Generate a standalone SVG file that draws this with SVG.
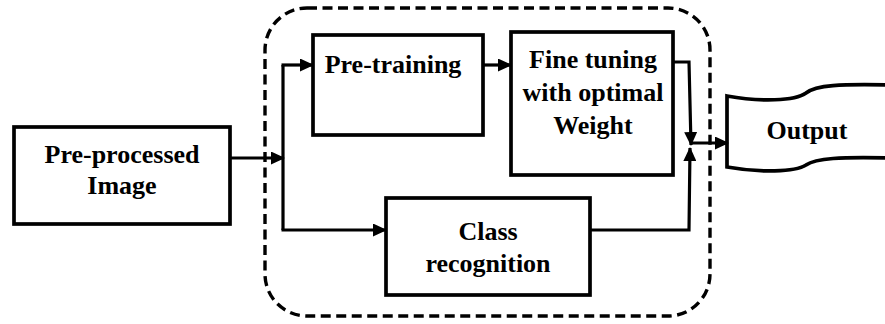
<svg xmlns="http://www.w3.org/2000/svg" width="885" height="324" viewBox="0 0 885 324">
<style>
.box{fill:#fff;stroke:#000;stroke-width:3.7}
.con{fill:none;stroke:#000;stroke-width:3.2}
.dash{fill:none;stroke:#000;stroke-width:3.4;stroke-dasharray:10 5.5}
text{font-family:'Liberation Serif','Times New Roman',serif;font-weight:bold;font-size:26px;fill:#000;text-anchor:middle}
</style>
<defs>
<marker id="ah" markerUnits="userSpaceOnUse" markerWidth="14" markerHeight="13" refX="13" refY="6.5" orient="auto">
<path d="M0,0 L14,6.5 L0,13 Z" fill="#000"/>
</marker>
</defs>
<rect class="dash" x="265" y="8" width="445" height="308" rx="42" ry="42"/>
<g id="preprocessed">
<rect class="box" x="14" y="127" width="216" height="97"/>
<text x="122" y="163">Pre-processed</text>
<text x="122" y="194">Image</text>
</g>
<g id="pretraining">
<rect class="box" x="313" y="35" width="170" height="100"/>
<text x="393" y="73">Pre-training</text>
</g>
<g id="finetuning">
<rect class="box" x="511" y="32" width="162" height="143"/>
<text x="593" y="68">Fine tuning</text>
<text x="593" y="101">with optimal</text>
<text x="593" y="134">Weight</text>
</g>
<g id="classrecognition">
<rect class="box" x="386" y="198" width="204" height="97"/>
<text x="488" y="240">Class</text>
<text x="488" y="272">recognition</text>
</g>
<g id="output">
<path class="box" d="M727,96 C760,102 795,101 806,93 C816,85 840,84 890,85 L890,158 C840,157 816,158 806,165 C795,172 760,173 727,167 Z"/>
<text x="807" y="139">Output</text>
</g>
<g id="connectors">
<path class="con" d="M230,158 L284,158" marker-end="url(#ah)"/>
<path class="con" d="M283,65 L283,230"/>
<path class="con" d="M281.5,65 L313,65" marker-end="url(#ah)"/>
<path class="con" d="M281.5,230 L386,230" marker-end="url(#ah)"/>
<path class="con" d="M483,65 L511,65" marker-end="url(#ah)"/>
<path class="con" d="M673,62 L689,62 L691,145" marker-end="url(#ah)"/>
<path class="con" d="M590,230 L689,230 L690,148" marker-end="url(#ah)"/>
<path class="con" d="M692,143 L728,143" marker-end="url(#ah)"/>
</g>
</svg>
